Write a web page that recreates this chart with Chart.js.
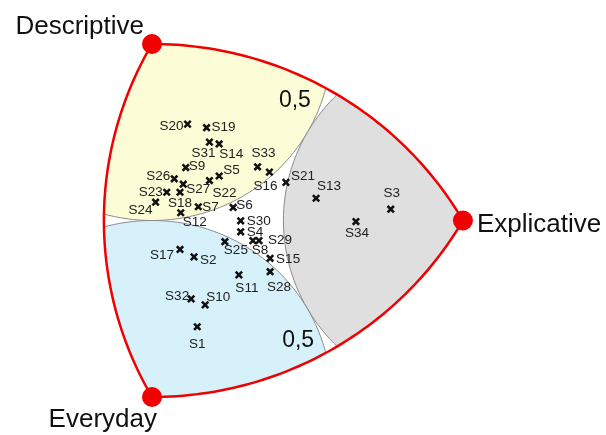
<!DOCTYPE html>
<html>
<head>
<meta charset="utf-8">
<script src="https://cdn.jsdelivr.net/npm/chart.js@4"></script>
<style>
  body { margin: 0; background: #fff; }
  #wrap { width: 606px; height: 435px; position: relative; }
</style>
</head>
<body>
<div id="wrap"><canvas id="triangulo"></canvas></div>
<script>
// triangle frame: Everyday at (0,0), Descriptive at (0,100), Explicative at (86.6,50)
const vertexNames = ['Descriptive', 'Explicative', 'Everyday'];
const vertexX = [0, 86.6, 0];
const vertexY = [100, 50, 0];
const zoneRadius = 50; // the "0,5" limit around each pole
const zoneLabel = '0,5';

const pointNames = ['S1','S2','S3','S4','S5','S6','S7','S8','S9','S10','S11','S12','S13','S14','S15','S16','S17',
                    'S18','S19','S20','S21','S22','S23','S24','S25','S26','S27','S28','S29','S30','S31','S32','S33','S34'];
const pointX = [12.6, 11.7, 66.5, 24.7, 18.7, 22.6, 12.9, 28.1, 9.4, 14.8, 24.2, 8.0, 45.7, 18.7, 32.9, 32.7, 7.8,
                7.8, 15.2, 9.9, 37.3, 16.0, 4.1, 1.0, 20.3, 6.2, 8.7, 32.9, 29.8, 24.7, 16.0, 10.9, 29.4, 56.8];
const pointY = [19.9, 39.7, 53.2, 46.8, 62.6, 53.7, 53.9, 44.3, 65.0, 26.1, 34.6, 52.2, 56.3, 71.7, 39.3, 63.7, 41.8,
                58.0, 76.3, 77.3, 60.8, 61.3, 58.0, 55.2, 44.0, 61.8, 60.3, 35.5, 44.3, 49.9, 72.2, 27.8, 65.2, 49.7];

// where each name sits next to its cross (pixels, alignment)
const labelPlace = [
  [0,18,'center'], [6,3,'left'], [1,-16,'center'], [6,0,'left'], [4,-6,'left'], [3,-2,'left'], [4,1,'left'],
  [7,10,'center'], [3,-1,'left'], [1,-8,'left'], [8,13,'center'], [14,10,'center'], [13,-12,'center'],
  [12,10,'center'], [6,1,'left'], [-4,14,'center'], [-6,6,'right'], [0,11,'center'], [5,0,'left'],
  [-4,2,'right'], [5,-6,'left'], [15,13,'center'], [-4,0,'right'], [-3,8,'right'], [11,9,'center'],
  [-4,-3,'right'], [3,5,'left'], [9,16,'center'], [9,0,'left'], [6,0,'left'], [-6,11,'center'],
  [-2,-3,'right'], [6,-14,'center'], [1,12,'center']
];
const zoneColors = ['#fcfcd7', '#dfdfdf', '#d7f1fb'];
const zoneLabelX = [39.8, 40.7];
const zoneLabelY = [83.9, 15.9];

const pontos = pointX.map((x, i) => ({ x: x, y: pointY[i] }));
const vertices = vertexX.map((x, i) => ({ x: x, y: vertexY[i] }));

function arco(cx, cy, r, a0, a1, n) {
    const out = [];
    for (let i = 0; i <= n; i++) {
        const a = (a0 + (a1 - a0) * i / n) * Math.PI / 180;
        out.push([cx + r * Math.cos(a), cy + r * Math.sin(a)]);
    }
    return out;
}

function contorno() {
    const side = Math.hypot(vertexX[0] - vertexX[2], vertexY[0] - vertexY[2]);
    // Descriptive -> Explicative (centre Everyday), Explicative -> Everyday (centre Descriptive), Everyday -> Descriptive (centre Explicative)
    return [].concat(
        arco(vertexX[2], vertexY[2], side, 90, 30, 60),
        arco(vertexX[0], vertexY[0], side, -30, -90, 60),
        arco(vertexX[1], vertexY[1], side, 210, 150, 60)
    );
}

function tracar(ctx, sx, sy, pts) {
    ctx.beginPath();
    pts.forEach((p, i) => {
        const px = sx.getPixelForValue(p[0]), py = sy.getPixelForValue(p[1]);
        if (i === 0) ctx.moveTo(px, py); else ctx.lineTo(px, py);
    });
    ctx.closePath();
}

const zonasPlugin = {
    id: 'zonas',
    beforeDatasetsDraw(chart) {
        const ctx = chart.ctx, sx = chart.scales.x, sy = chart.scales.y;
        const borda = contorno();
        ctx.save();
        tracar(ctx, sx, sy, borda);
        ctx.clip();
        for (let i = 0; i < 3; i++) {
            tracar(ctx, sx, sy, arco(vertexX[i], vertexY[i], zoneRadius, 0, 360, 180));
            ctx.fillStyle = zoneColors[i];
            ctx.fill();
            ctx.strokeStyle = '#8c8c8c';
            ctx.lineWidth = 1;
            ctx.stroke();
        }
        ctx.restore();

        ctx.save();
        tracar(ctx, sx, sy, borda);
        ctx.strokeStyle = '#f00000';
        ctx.lineWidth = 2.5;
        ctx.stroke();

        ctx.fillStyle = '#111';
        ctx.font = '23px "Liberation Sans", Arial, sans-serif';
        ctx.textAlign = 'center';
        ctx.textBaseline = 'middle';
        for (let i = 0; i < zoneLabelX.length; i++) {
            ctx.fillText(zoneLabel, sx.getPixelForValue(zoneLabelX[i]), sy.getPixelForValue(zoneLabelY[i]));
        }
        ctx.restore();
    },
    afterDatasetsDraw(chart) {
        const ctx = chart.ctx, sx = chart.scales.x, sy = chart.scales.y;
        ctx.save();
        ctx.fillStyle = '#222';
        ctx.font = '13.5px "Liberation Sans", Arial, sans-serif';
        ctx.textBaseline = 'middle';
        pointNames.forEach((nome, i) => {
            const px = sx.getPixelForValue(pointX[i]), py = sy.getPixelForValue(pointY[i]);
            const lp = labelPlace[i];
            ctx.textAlign = lp[2];
            ctx.fillText(nome, px + lp[0], py + lp[1]);
        });

        // pole names
        ctx.fillStyle = '#111';
        ctx.font = '26px "Liberation Sans", Arial, sans-serif';
        const d = [sx.getPixelForValue(vertexX[0]), sy.getPixelForValue(vertexY[0])];
        const e = [sx.getPixelForValue(vertexX[1]), sy.getPixelForValue(vertexY[1])];
        const v = [sx.getPixelForValue(vertexX[2]), sy.getPixelForValue(vertexY[2])];
        ctx.textBaseline = 'alphabetic';
        ctx.textAlign = 'right';
        ctx.fillText(vertexNames[0], d[0] - 8, d[1] - 10);
        ctx.textAlign = 'left';
        ctx.fillText(vertexNames[1], e[0] + 14, e[1] + 11);
        ctx.textAlign = 'right';
        ctx.fillText(vertexNames[2], v[0] + 5, v[1] + 30);
        ctx.restore();
    }
};

const ctx = document.getElementById('triangulo').getContext('2d');
const grafico = new Chart(ctx, {
    type: 'scatter',
    data: {
        datasets: [{
            label: 'Sujeitos',
            data: pontos,
            pointStyle: 'crossRot',
            pointRadius: 4.5,
            borderColor: '#111',
            borderWidth: 2.6
        }, {
            label: 'Polos',
            data: vertices,
            pointStyle: 'circle',
            pointRadius: 10,
            backgroundColor: '#f00000',
            borderColor: '#f00000',
            borderWidth: 0
        }]
    },
    options: {
        responsive: true,
        maintainAspectRatio: false,
        animation: false,
        layout: { padding: 0, autoPadding: false },
        plugins: {
            legend: { display: false },
            tooltip: { enabled: false }
        },
        scales: {
            x: { type: 'linear', min: -42.34, max: 126.46, display: false },
            y: { type: 'linear', min: -10.76, max: 112.46, display: false }
        }
    },
    plugins: [zonasPlugin]
});
</script>
</body>
</html>
